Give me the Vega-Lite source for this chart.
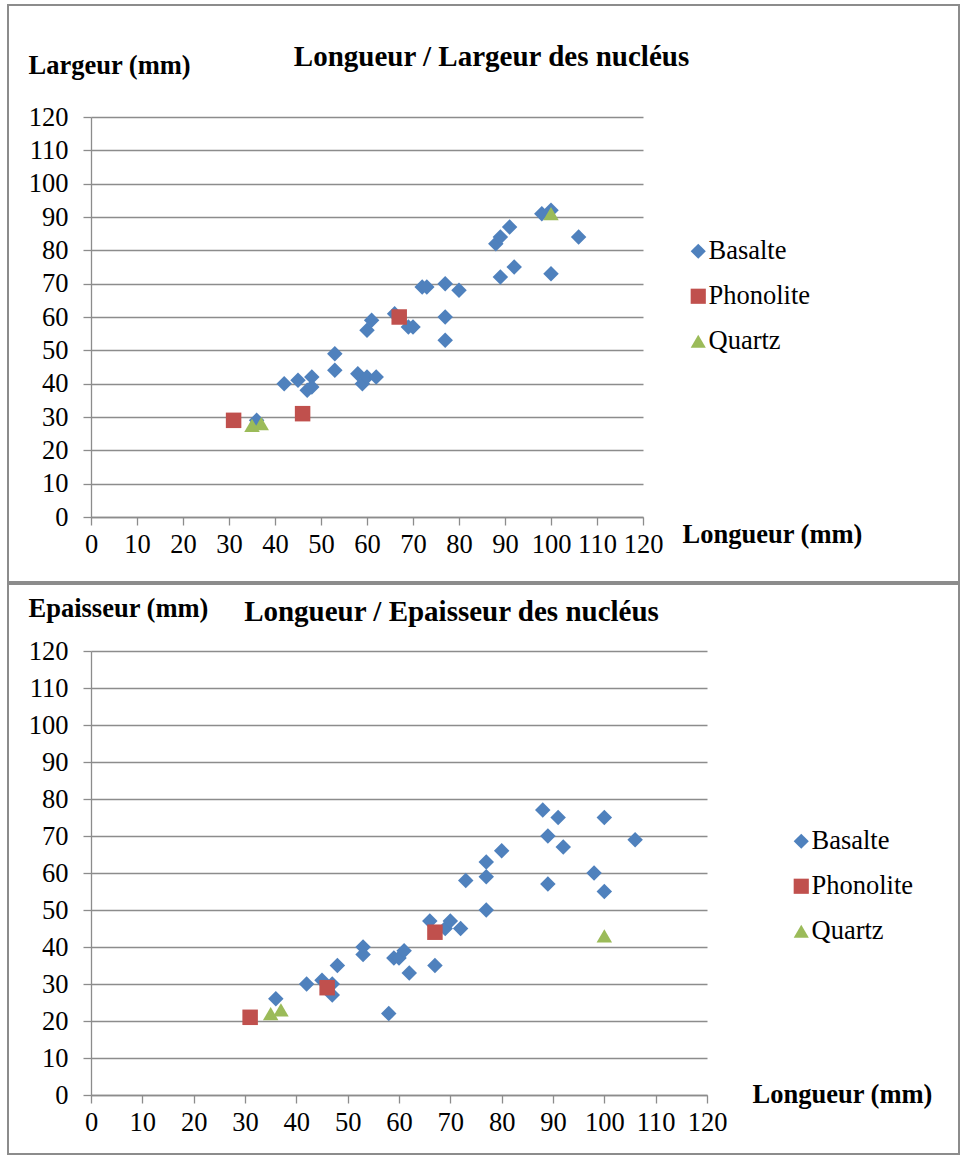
{
  "$schema": "https://vega.github.io/schema/vega-lite/v6.json",
  "background": "white",
  "padding": {"left": 7, "top": 4, "right": 0, "bottom": 0},
  "spacing": 0,
  "config": {
    "view": {"stroke": "#8c8c8c", "strokeWidth": 2},
    "font": "Liberation Serif",
    "axis": {
      "labelFont": "Liberation Serif",
      "labelFontSize": 26.5,
      "labelColor": "#000000",
      "titleFont": "Liberation Serif",
      "titleFontSize": 26.5,
      "titleFontWeight": "bold",
      "titleColor": "#000000",
      "domainColor": "#8c8c8c",
      "domainWidth": 1.3,
      "tickColor": "#8c8c8c",
      "tickWidth": 1.3,
      "tickSize": 8,
      "gridColor": "#8c8c8c",
      "gridWidth": 1.3,
      "labelOverlap": false,
      "labelFlush": false,
      "labelBound": false
    },
    "legend": {
      "labelFont": "Liberation Serif",
      "labelFontSize": 26.5,
      "labelColor": "#000000",
      "symbolSize": 230,
      "symbolStrokeWidth": 0,
      "labelOffset": -3,
      "rowPadding": 18,
      "padding": 0
    },
    "title": {"font": "Liberation Serif", "fontSize": 29, "fontWeight": "bold", "color": "#000000"}
  },
  "datasets": {
    "largeur": [
      {"Longueur": 36, "Largeur": 29, "Type": "Basalte"},
      {"Longueur": 42, "Largeur": 40, "Type": "Basalte"},
      {"Longueur": 45, "Largeur": 41, "Type": "Basalte"},
      {"Longueur": 48, "Largeur": 42, "Type": "Basalte"},
      {"Longueur": 47, "Largeur": 38, "Type": "Basalte"},
      {"Longueur": 48, "Largeur": 39, "Type": "Basalte"},
      {"Longueur": 53, "Largeur": 49, "Type": "Basalte"},
      {"Longueur": 53, "Largeur": 44, "Type": "Basalte"},
      {"Longueur": 58, "Largeur": 43, "Type": "Basalte"},
      {"Longueur": 59, "Largeur": 40, "Type": "Basalte"},
      {"Longueur": 60, "Largeur": 42, "Type": "Basalte"},
      {"Longueur": 62, "Largeur": 42, "Type": "Basalte"},
      {"Longueur": 60, "Largeur": 56, "Type": "Basalte"},
      {"Longueur": 61, "Largeur": 59, "Type": "Basalte"},
      {"Longueur": 66, "Largeur": 61, "Type": "Basalte"},
      {"Longueur": 69, "Largeur": 57, "Type": "Basalte"},
      {"Longueur": 70, "Largeur": 57, "Type": "Basalte"},
      {"Longueur": 72, "Largeur": 69, "Type": "Basalte"},
      {"Longueur": 73, "Largeur": 69, "Type": "Basalte"},
      {"Longueur": 77, "Largeur": 70, "Type": "Basalte"},
      {"Longueur": 80, "Largeur": 68, "Type": "Basalte"},
      {"Longueur": 77, "Largeur": 60, "Type": "Basalte"},
      {"Longueur": 77, "Largeur": 53, "Type": "Basalte"},
      {"Longueur": 89, "Largeur": 72, "Type": "Basalte"},
      {"Longueur": 92, "Largeur": 75, "Type": "Basalte"},
      {"Longueur": 88, "Largeur": 82, "Type": "Basalte"},
      {"Longueur": 89, "Largeur": 84, "Type": "Basalte"},
      {"Longueur": 91, "Largeur": 87, "Type": "Basalte"},
      {"Longueur": 98, "Largeur": 91, "Type": "Basalte"},
      {"Longueur": 100, "Largeur": 92, "Type": "Basalte"},
      {"Longueur": 100, "Largeur": 73, "Type": "Basalte"},
      {"Longueur": 106, "Largeur": 84, "Type": "Basalte"},
      {"Longueur": 31, "Largeur": 29, "Type": "Phonolite"},
      {"Longueur": 46, "Largeur": 31, "Type": "Phonolite"},
      {"Longueur": 67, "Largeur": 60, "Type": "Phonolite"},
      {"Longueur": 35, "Largeur": 27.5, "Type": "Quartz"},
      {"Longueur": 37, "Largeur": 28, "Type": "Quartz"},
      {"Longueur": 100, "Largeur": 91, "Type": "Quartz"}
    ],
    "epaisseur": [
      {"Longueur": 36, "Epaisseur": 26, "Type": "Basalte"},
      {"Longueur": 42, "Epaisseur": 30, "Type": "Basalte"},
      {"Longueur": 45, "Epaisseur": 31, "Type": "Basalte"},
      {"Longueur": 47, "Epaisseur": 30, "Type": "Basalte"},
      {"Longueur": 47, "Epaisseur": 27, "Type": "Basalte"},
      {"Longueur": 48, "Epaisseur": 35, "Type": "Basalte"},
      {"Longueur": 53, "Epaisseur": 40, "Type": "Basalte"},
      {"Longueur": 53, "Epaisseur": 38, "Type": "Basalte"},
      {"Longueur": 58, "Epaisseur": 22, "Type": "Basalte"},
      {"Longueur": 59, "Epaisseur": 37, "Type": "Basalte"},
      {"Longueur": 60, "Epaisseur": 37, "Type": "Basalte"},
      {"Longueur": 61, "Epaisseur": 39, "Type": "Basalte"},
      {"Longueur": 62, "Epaisseur": 33, "Type": "Basalte"},
      {"Longueur": 66, "Epaisseur": 47, "Type": "Basalte"},
      {"Longueur": 67, "Epaisseur": 35, "Type": "Basalte"},
      {"Longueur": 69, "Epaisseur": 45, "Type": "Basalte"},
      {"Longueur": 70, "Epaisseur": 47, "Type": "Basalte"},
      {"Longueur": 72, "Epaisseur": 45, "Type": "Basalte"},
      {"Longueur": 73, "Epaisseur": 58, "Type": "Basalte"},
      {"Longueur": 77, "Epaisseur": 63, "Type": "Basalte"},
      {"Longueur": 77, "Epaisseur": 59, "Type": "Basalte"},
      {"Longueur": 77, "Epaisseur": 50, "Type": "Basalte"},
      {"Longueur": 80, "Epaisseur": 66, "Type": "Basalte"},
      {"Longueur": 88, "Epaisseur": 77, "Type": "Basalte"},
      {"Longueur": 91, "Epaisseur": 75, "Type": "Basalte"},
      {"Longueur": 89, "Epaisseur": 70, "Type": "Basalte"},
      {"Longueur": 92, "Epaisseur": 67, "Type": "Basalte"},
      {"Longueur": 89, "Epaisseur": 57, "Type": "Basalte"},
      {"Longueur": 100, "Epaisseur": 75, "Type": "Basalte"},
      {"Longueur": 106, "Epaisseur": 69, "Type": "Basalte"},
      {"Longueur": 98, "Epaisseur": 60, "Type": "Basalte"},
      {"Longueur": 100, "Epaisseur": 55, "Type": "Basalte"},
      {"Longueur": 31, "Epaisseur": 21, "Type": "Phonolite"},
      {"Longueur": 46, "Epaisseur": 29, "Type": "Phonolite"},
      {"Longueur": 67, "Epaisseur": 44, "Type": "Phonolite"},
      {"Longueur": 35, "Epaisseur": 22, "Type": "Quartz"},
      {"Longueur": 37, "Epaisseur": 23, "Type": "Quartz"},
      {"Longueur": 100, "Epaisseur": 43, "Type": "Quartz"}
    ]
  },
  "resolve": {
    "scale": {"x": "independent", "y": "independent", "color": "independent", "shape": "independent"},
    "legend": {"color": "independent", "shape": "independent"}
  },
  "vconcat": [
    {
      "width": 951,
      "height": 577,
      "data": {"name": "largeur"},
      "title": {"text": "Longueur / Largeur des nucléus", "anchor": "middle", "frame": "group", "orient": "top", "baseline": "alphabetic", "offset": -90, "dx": 8},
      "mark": {"type": "point", "filled": true, "opacity": 1, "size": 240, "strokeWidth": 0},
      "encoding": {
        "x": {
          "field": "Longueur", "type": "quantitative",
          "scale": {"domain": [0, 120], "range": [83, 635], "nice": false, "zero": false},
          "axis": {
            "title": "Longueur (mm)", "values": [0, 10, 20, 30, 40, 50, 60, 70, 80, 90, 100, 110, 120],
            "grid": false, "offset": -65, "labelPadding": 6,
            "titleAlign": "left", "titleBaseline": "alphabetic", "titleAngle": 0, "titleX": 674, "titleY": 25
          }
        },
        "y": {
          "field": "Largeur", "type": "quantitative",
          "scale": {"domain": [0, 120], "range": [512, 112], "nice": false, "zero": false},
          "axis": {
            "title": "Largeur (mm)", "values": [0, 10, 20, 30, 40, 50, 60, 70, 80, 90, 100, 110, 120],
            "grid": true, "offset": -83, "labelPadding": 15,
            "titleAlign": "left", "titleBaseline": "alphabetic", "titleAngle": 0, "titleX": -63, "titleY": 68
          }
        },
        "color": {
          "field": "Type", "type": "nominal",
          "scale": {"domain": ["Basalte", "Phonolite", "Quartz"], "range": ["#4F81BD", "#C0504D", "#9BBB59"]},
          "legend": {"title": null, "orient": "none", "legendX": 677, "legendY": 233}
        },
        "shape": {
          "field": "Type", "type": "nominal",
          "scale": {"domain": ["Basalte", "Phonolite", "Quartz"], "range": ["diamond", "square", "triangle-up"]},
          "legend": {"title": null, "orient": "none", "legendX": 677, "legendY": 233}
        }
      }
    },
    {
      "width": 951,
      "height": 570,
      "data": {"name": "epaisseur"},
      "title": {"text": "Longueur / Epaisseur des nucléus", "anchor": "middle", "frame": "group", "orient": "top", "baseline": "alphabetic", "offset": -66, "dx": -32},
      "mark": {"type": "point", "filled": true, "opacity": 1, "size": 240, "strokeWidth": 0},
      "encoding": {
        "x": {
          "field": "Longueur", "type": "quantitative",
          "scale": {"domain": [0, 120], "range": [83, 699], "nice": false, "zero": false},
          "axis": {
            "title": "Longueur (mm)", "values": [0, 10, 20, 30, 40, 50, 60, 70, 80, 90, 100, 110, 120],
            "grid": false, "offset": -59, "labelPadding": 6,
            "titleAlign": "left", "titleBaseline": "alphabetic", "titleAngle": 0, "titleX": 744, "titleY": 7
          }
        },
        "y": {
          "field": "Epaisseur", "type": "quantitative",
          "scale": {"domain": [0, 120], "range": [511, 67], "nice": false, "zero": false},
          "axis": {
            "title": "Epaisseur (mm)", "values": [0, 10, 20, 30, 40, 50, 60, 70, 80, 90, 100, 110, 120],
            "grid": true, "offset": -83, "labelPadding": 15,
            "titleAlign": "left", "titleBaseline": "alphabetic", "titleAngle": 0, "titleX": -63, "titleY": 32
          }
        },
        "color": {
          "field": "Type", "type": "nominal",
          "scale": {"domain": ["Basalte", "Phonolite", "Quartz"], "range": ["#4F81BD", "#C0504D", "#9BBB59"]},
          "legend": {"title": null, "orient": "none", "legendX": 780, "legendY": 244}
        },
        "shape": {
          "field": "Type", "type": "nominal",
          "scale": {"domain": ["Basalte", "Phonolite", "Quartz"], "range": ["diamond", "square", "triangle-up"]},
          "legend": {"title": null, "orient": "none", "legendX": 780, "legendY": 244}
        }
      }
    }
  ]
}
